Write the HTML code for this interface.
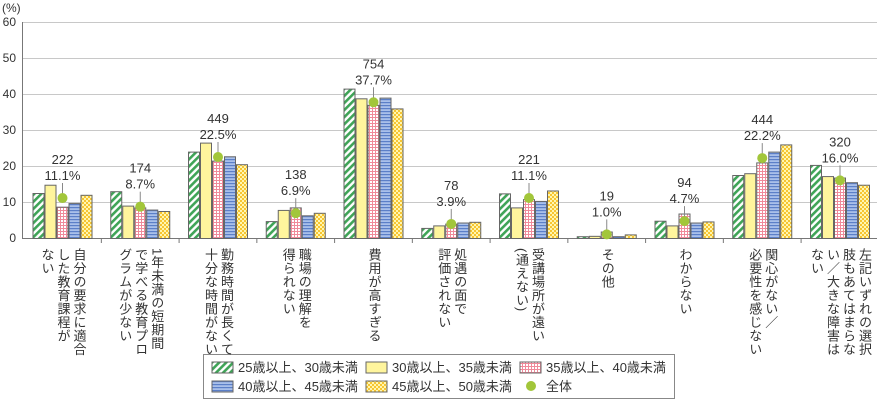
<!DOCTYPE html>
<html><head><meta charset="utf-8">
<style>
body{margin:0;width:880px;height:402px;background:#fff;position:relative;overflow:hidden;font-family:"Liberation Sans","Noto Sans CJK JP",sans-serif;color:#333}
.lbl{position:absolute;top:248px;writing-mode:vertical-rl;font-size:13px;line-height:16px;letter-spacing:0.5px;white-space:nowrap}
svg{position:absolute;left:0;top:0}
</style></head><body>
<svg width="880" height="402" xmlns="http://www.w3.org/2000/svg" font-family="Liberation Sans, Noto Sans CJK JP, sans-serif">
<defs>
<pattern id="pG" width="5" height="5" patternUnits="userSpaceOnUse" patternTransform="rotate(45)"><rect width="5" height="5" fill="#fff"/><rect width="2.6" height="5" fill="#3fa457"/></pattern>
<pattern id="pR" width="3" height="3" patternUnits="userSpaceOnUse"><rect width="3" height="3" fill="#fff"/><rect width="3" height="1" fill="#f08a9a"/><rect width="1" height="3" fill="#f08a9a"/></pattern>
<pattern id="pB" width="4" height="3" patternUnits="userSpaceOnUse"><rect width="4" height="3" fill="#a9c0ea"/><rect width="4" height="1.2" fill="#5b7fc8"/></pattern>
<pattern id="pY" width="4" height="4" patternUnits="userSpaceOnUse"><rect width="4" height="4" fill="#fff6b0"/><rect width="2" height="2" fill="#f7c531"/><rect x="2" y="2" width="2" height="2" fill="#f7c531"/></pattern>
</defs>
<g id="grid" stroke="#c8c8c8" stroke-width="1"></g>
<g id="bars"></g>
<text x="2" y="12" font-size="12" fill="#333">(%)</text>
<g font-size="12" fill="#333" text-anchor="end" id="ylab"></g>
<rect x="203.5" y="354.5" width="471" height="44" fill="#fff" stroke="#888"/>
<g font-size="13" fill="#333">
<rect x="212" y="362" width="21" height="11" fill="url(#pG)" stroke="#666"/><text x="238" y="372">25歳以上、30歳未満</text>
<rect x="366" y="362" width="21" height="11" fill="#fff59d" stroke="#666"/><text x="392" y="372">30歳以上、35歳未満</text>
<rect x="520" y="362" width="21" height="11" fill="url(#pR)" stroke="#666"/><text x="546" y="372">35歳以上、40歳未満</text>
<rect x="212" y="381" width="21" height="11" fill="url(#pB)" stroke="#666"/><text x="238" y="391">40歳以上、45歳未満</text>
<rect x="366" y="381" width="21" height="11" fill="url(#pY)" stroke="#666"/><text x="392" y="391">45歳以上、50歳未満</text>
<circle cx="531" cy="386" r="5" fill="#a2c63a"/><text x="546" y="391">全体</text>
</g>
</svg>
<div id="labels"></div>
<script>
const data=[[12.5,14.8,8.7,9.7,12,11.1,222],[13,9,8.5,7.9,7.5,8.7,174],[24,26.5,21.5,22.7,20.5,22.5,449],[4.7,7.8,8.5,6.3,7,6.9,138],[41.5,38.8,37,39,36,37.7,754],[2.8,3.5,4,4.3,4.5,3.9,78],[12.4,8.5,10.8,10.3,13.2,11.1,221],[0.5,0.6,1.8,0.5,1,1.0,19],[4.8,3.5,6.8,4.3,4.6,4.7,94],[17.5,18,21,24,26,22.2,444],[20.3,17.2,16.8,15.5,14.8,16.0,320]];
const labels=[["自分の要求に適合","した教育課程が","ない"],["1年未満の短期間","で学べる教育プロ","グラムが少ない"],["勤務時間が長くて","十分な時間がない"],["職場の理解を","得られない"],["費用が高すぎる"],["処遇の面で","評価されない"],["受講場所が遠い","(通えない)"],["その他"],["わからない"],["関心がない／","必要性を感じない"],["左記いずれの選択","肢もあてはまらな","い／大きな障害は","ない"]];
const NS="http://www.w3.org/2000/svg";
const Y=v=>238-v*3.6;
function el(p,t,a,txt){const e=document.createElementNS(NS,t);for(const k in a)e.setAttribute(k,a[k]);if(txt!==undefined)e.textContent=txt;document.getElementById(p).appendChild(e);return e;}
for(let v=10;v<=60;v+=10)el('grid','line',{x1:22,x2:877,y1:Y(v)+.5,y2:Y(v)+.5});
for(let v=0;v<=60;v+=10)el('ylab','text',{x:16,y:Y(v)+4},v);
el('grid','line',{x1:22.5,x2:22.5,y1:22,y2:238,stroke:'#777'});
el('grid','line',{x1:22,x2:877,y1:238.5,y2:238.5,stroke:'#777'});
const fills=['url(#pG)','#fff59d','url(#pR)','url(#pB)','url(#pY)'];
let html='';
data.forEach((d,i)=>{
 const cx=62.5+i*77.75;
 if(i>0)el('grid','line',{x1:cx-38.9,x2:cx-38.9,y1:238,y2:243,stroke:'#777'});
 for(let j=0;j<5;j++){el('bars','rect',{x:cx-30+j*12+.5,y:Y(d[j])+.5,width:11,height:d[j]*3.6,fill:fills[j],stroke:'#666','stroke-width':1});}
 const dy=Y(d[5]);
 el('bars','line',{x1:cx,x2:cx,y1:dy-15,y2:dy,stroke:'#888'});
 el('bars','circle',{cx:cx,cy:dy,r:5,fill:'#a2c63a'});
 el('bars','text',{x:cx,y:dy-34,'text-anchor':'middle','font-size':13,fill:'#333'},d[6]);
 el('bars','text',{x:cx,y:dy-18,'text-anchor':'middle','font-size':13,fill:'#333'},d[5].toFixed(1)+'%');
 const n=labels[i].length,w=n*16;
 html+=`<div class="lbl" style="left:${cx-w/2}px;width:${w}px">${labels[i].join('<br>')}</div>`;
});
document.getElementById('labels').innerHTML=html;
</script>
</body></html>
